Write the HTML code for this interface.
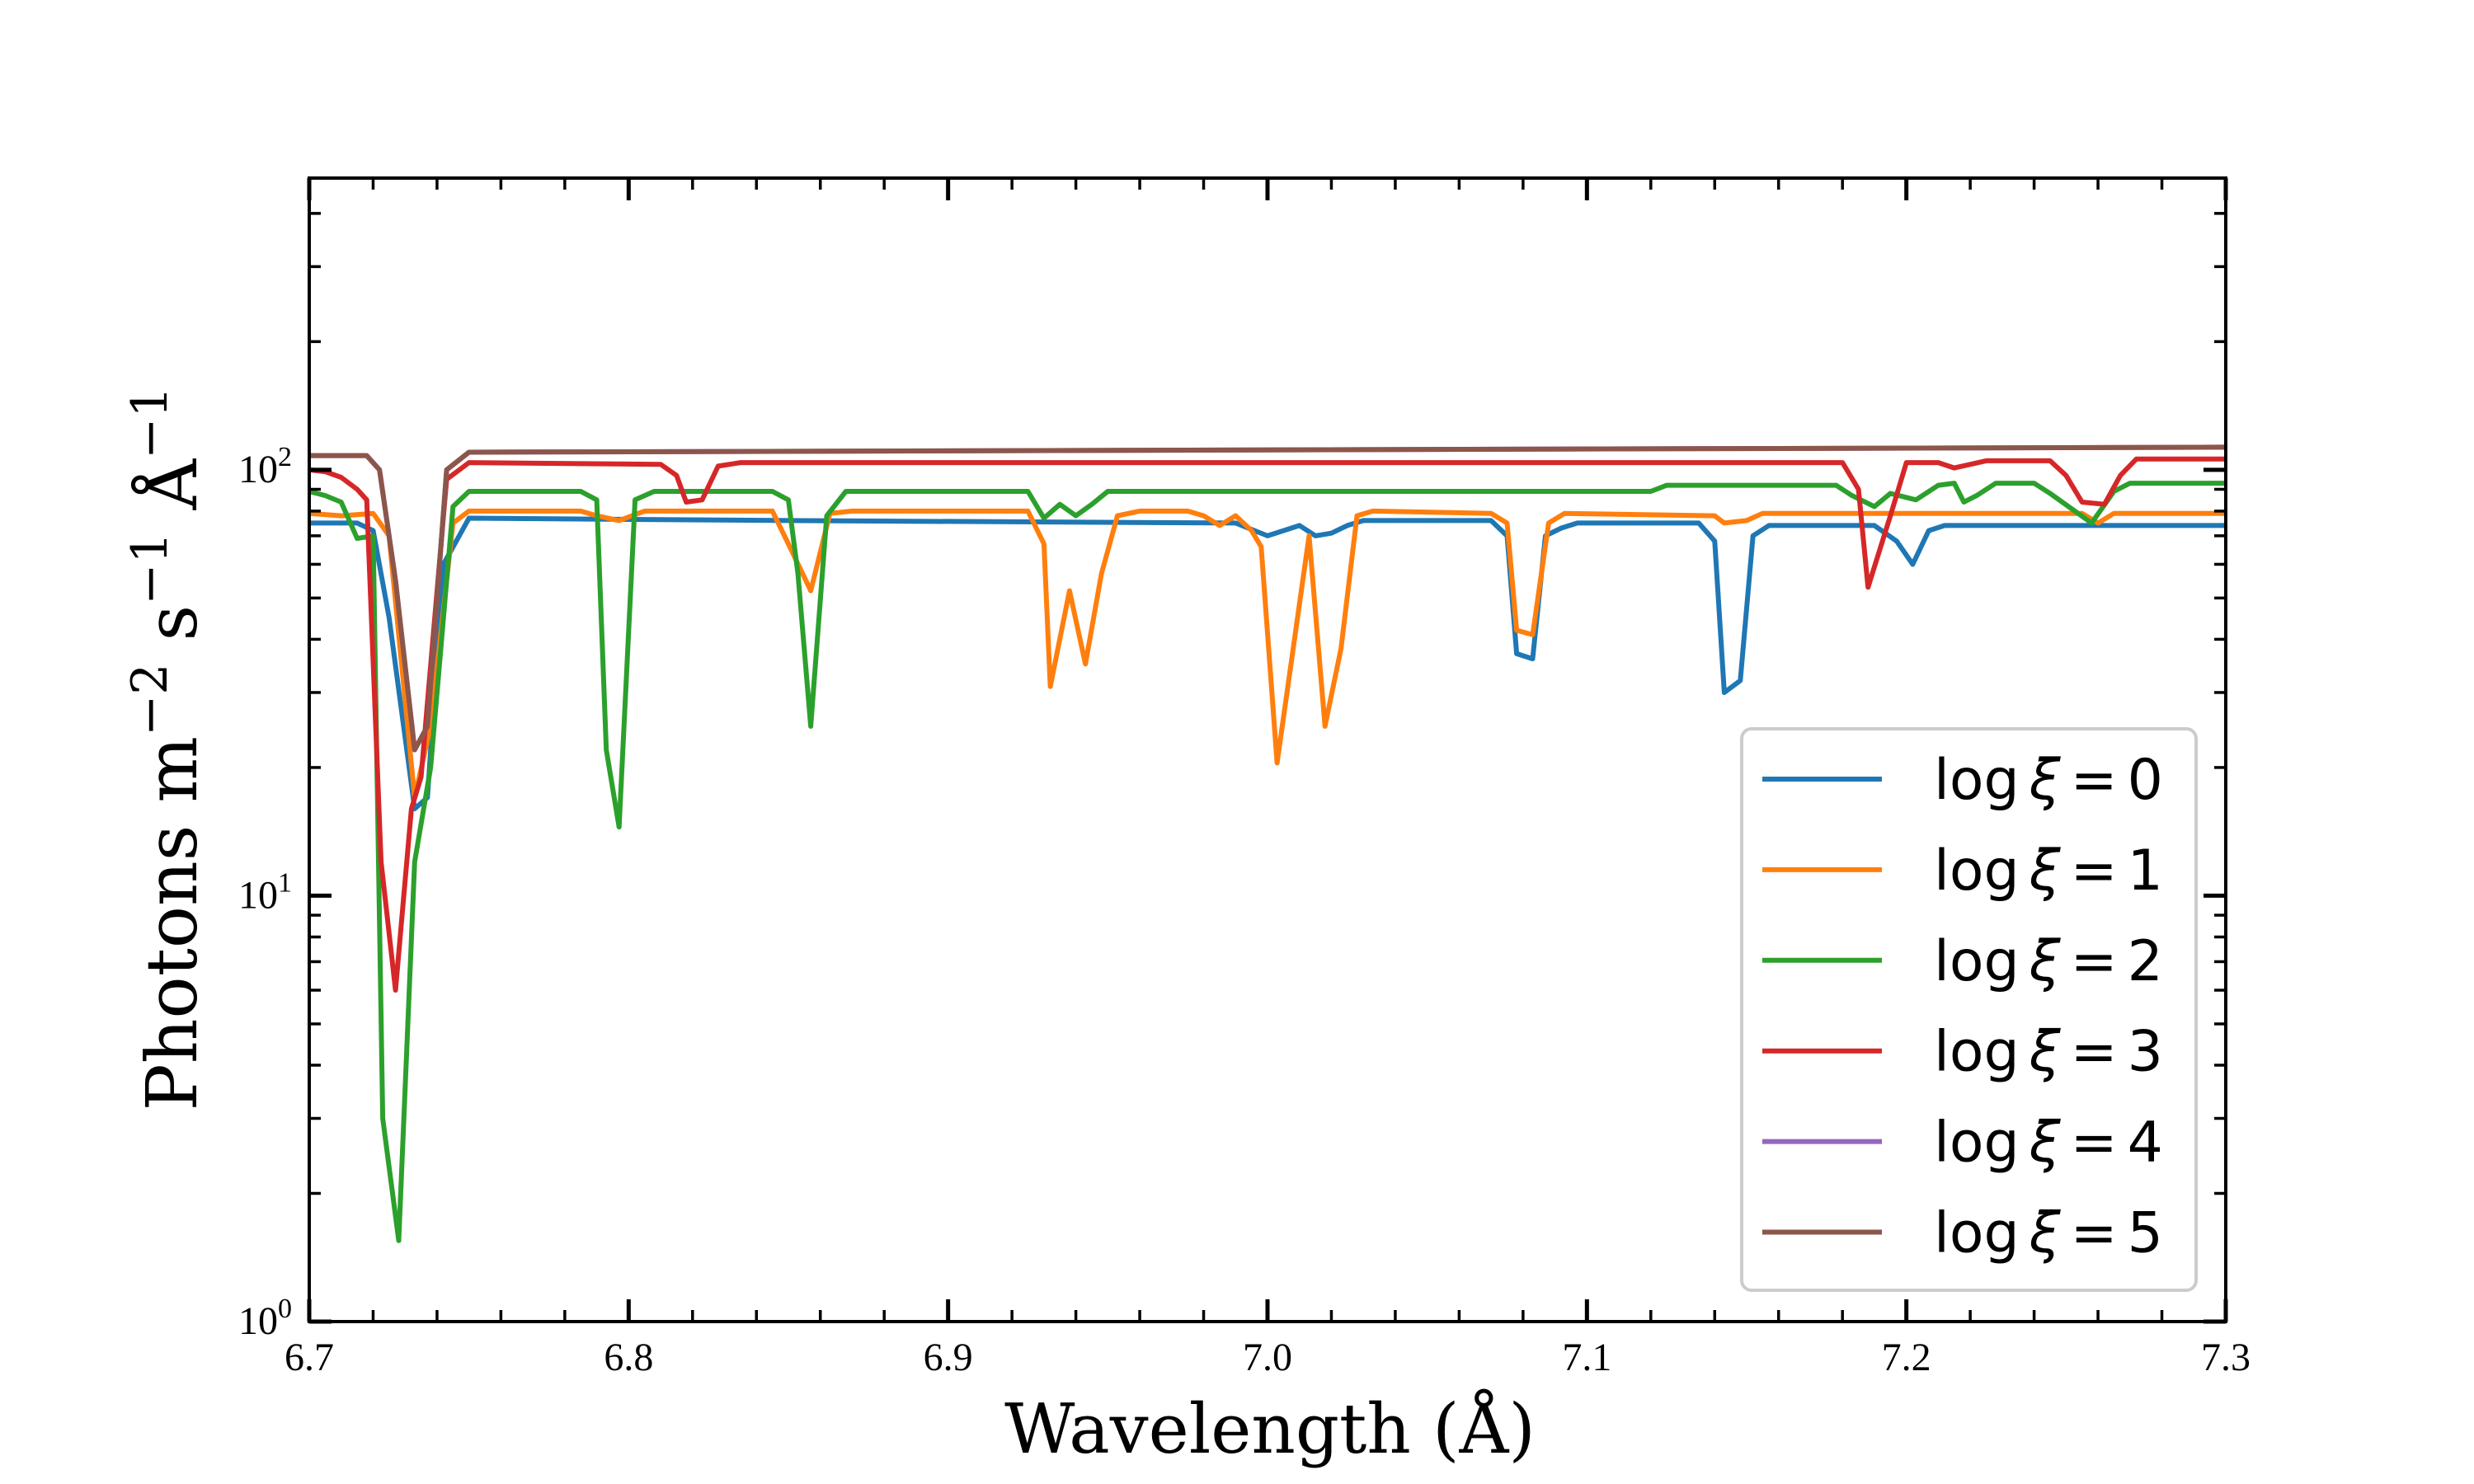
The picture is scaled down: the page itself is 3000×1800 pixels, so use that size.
<!DOCTYPE html>
<html><head><meta charset="utf-8"><style>
html,body{margin:0;padding:0;background:#fff;}
svg{display:block;}
</style></head><body>
<svg id="chart" width="3000" height="1800" viewBox="0 0 3000 1800" xmlns="http://www.w3.org/2000/svg">
<rect width="3000" height="1800" fill="#fff"/>
<g id="series"></g>
<g id="axes"></g>
<text x="1540" y="1762" text-anchor="middle" font-family="DejaVu Serif, Liberation Serif, serif" font-size="83">Wavelength (Å)</text>
<text transform="translate(238,908) rotate(-90)" text-anchor="middle" font-family="DejaVu Serif, Liberation Serif, serif" font-size="85">Photons m<tspan dy="-36" font-size="60">−2</tspan><tspan dy="36"> s</tspan><tspan dy="-36" font-size="60">−1</tspan><tspan dy="36"> Å</tspan><tspan dy="-36" font-size="60">−1</tspan></text>
<g id="legend"></g>
</svg>
<script>
const xTicks=[6.7,6.8,6.9,7.0,7.1,7.2,7.3];
const xTickLabels=["6.7","6.8","6.9","7.0","7.1","7.2","7.3"];
const yTicks=[1,10,100];
const seriesNames=["0","1","2","3","4","5"];
const seriesColors=["#1f77b4","#ff7f0e","#2ca02c","#d62728","#9467bd","#8c564b"];
const wl0=[6.7,6.715,6.72,6.725,6.733,6.737,6.742,6.75,6.85,6.99,7.0,7.005,7.01,7.015,7.02,7.025,7.03,7.07,7.075,7.078,7.083,7.087,7.092,7.097,7.135,7.14,7.143,7.148,7.152,7.157,7.19,7.197,7.202,7.207,7.212,7.3];
const v0=[75,75,72,45,16,17,60,77,76,75,70,72,74,70,71,74,76,76,70,37,36,70,73,75,75,68,30,32,70,74,74,68,60,72,74,74];
const wl1=[6.7,6.71,6.72,6.725,6.733,6.738,6.745,6.75,6.785,6.79,6.797,6.805,6.845,6.85,6.857,6.863,6.87,6.925,6.93,6.932,6.938,6.943,6.948,6.953,6.96,6.975,6.98,6.985,6.99,6.995,6.998,7.003,7.013,7.018,7.023,7.028,7.033,7.07,7.075,7.078,7.083,7.088,7.093,7.14,7.143,7.15,7.155,7.255,7.26,7.265,7.3];
const v1=[79,78,79,70,17,25,75,80,80,78,76,80,80,67,52,79,80,80,67,31,52,35,57,78,80,80,78,74,78,72,66,20.5,70,25,38,78,80,79,75,42,41,75,79,78,75,76,79,79,75,79,79];
const wl2=[6.7,6.705,6.71,6.715,6.72,6.723,6.728,6.733,6.738,6.745,6.75,6.785,6.79,6.793,6.797,6.802,6.808,6.845,6.85,6.853,6.857,6.862,6.868,6.925,6.93,6.935,6.94,6.945,6.95,7.12,7.125,7.178,7.183,7.19,7.195,7.203,7.21,7.215,7.218,7.222,7.228,7.24,7.245,7.258,7.265,7.27,7.3];
const v2=[89,87,84,69,70,3.0,1.55,12,20,82,89,89,85,22,14.5,85,89,89,85,57,25,78,89,89,77,83,78,83,89,89,92,92,87,82,88,85,92,93,84,87,93,93,88,75,89,93,93];
const wl3=[6.7,6.705,6.71,6.715,6.718,6.7225,6.727,6.732,6.735,6.743,6.75,6.81,6.815,6.818,6.823,6.828,6.835,7.18,7.185,7.188,7.195,7.2,7.21,7.215,7.225,7.245,7.25,7.255,7.262,7.267,7.272,7.3];
const v3=[100,99,96,90,85,12,6,16,19,95,104,103,97,84,85,102,104,104,90,53,78,104,104,101,105,105,97,84,83,97,106,106];
const wl4=[6.7,6.718,6.722,6.727,6.733,6.737,6.743,6.75,7.3];
const v4=[108,108,100,55,22,25,100,110,113];
const wl5=[6.7,6.718,6.722,6.727,6.733,6.737,6.743,6.75,7.3];
const v5=[108,108,100,55,22,25,100,110,113];
const allWl=[wl0,wl1,wl2,wl3,wl4,wl5];
const allV=[v0,v1,v2,v3,v4,v5];

const NS="http://www.w3.org/2000/svg";
const L=375,R=2699,T=216,B=1603;
const xMin=6.7,xMax=7.3,lMin=0,lMax=2.685;
function xs(v){return L+(v-xMin)/(xMax-xMin)*(R-L);}
function ys(v){return B-(Math.log10(v)-lMin)/(lMax-lMin)*(B-T);}
function mk(tag,attrs,parent){const e=document.createElementNS(NS,tag);for(const k in attrs)e.setAttribute(k,attrs[k]);parent.appendChild(e);return e;}

const sg=document.getElementById('series');
const clip=mk('clipPath',{id:'pc'},sg);
mk('rect',{x:L,y:T,width:R-L,height:B-T},clip);
for(let s=0;s<allWl.length;s++){
  let d='';
  allWl[s].forEach((w,i)=>{d+=(i?'L':'M')+xs(w).toFixed(1)+' '+ys(allV[s][i]).toFixed(1);});
  const p=mk('path',{d:d,fill:'none',stroke:seriesColors[s],'stroke-width':6,'stroke-linejoin':'round','clip-path':'url(#pc)'},sg);
  
  
}

const ax=document.getElementById('axes');
const frame=mk('rect',{x:L,y:T,width:R-L,height:B-T,fill:'none',stroke:'#000','stroke-width':4},ax);


for(let i=0;i<=30;i++){
  const v=xMin+i*0.02;const x=xs(v);const major=(i%5===0);const len=major?27:14;const w=major?5:3.5;
  mk('line',{x1:x,y1:B,x2:x,y2:B-len,stroke:'#000','stroke-width':w},ax);
  mk('line',{x1:x,y1:T,x2:x,y2:T+len,stroke:'#000','stroke-width':w},ax);
}
xTicks.forEach((v,i)=>{
  const t=mk('text',{x:xs(v),y:1662,'text-anchor':'middle','font-family':'Liberation Serif, serif','font-size':48},ax);
  t.textContent=xTickLabels[i];
  
  
});
for(let dcd=0;dcd<3;dcd++){
  for(let m=1;m<=9;m++){
    const v=m*Math.pow(10,dcd);const y=ys(v);if(y<T-1)continue;
    const major=(m===1);const len=major?27:14;const w=major?5:3.5;
    mk('line',{x1:L,y1:y,x2:L+len,y2:y,stroke:'#000','stroke-width':w},ax);
    mk('line',{x1:R,y1:y,x2:R-len,y2:y,stroke:'#000','stroke-width':w},ax);
  }
}
yTicks.forEach((v,i)=>{
  const t=mk('text',{x:354,y:ys(v)+15,'text-anchor':'end','font-family':'Liberation Serif, serif','font-size':48},ax);
  t.textContent='10';
  const sp=mk('tspan',{dy:-20,'font-size':34},t);
  sp.textContent=String(Math.round(Math.log10(v)));
  
  
});

const lg=document.getElementById('legend');
const box=mk('rect',{x:2112,y:884,width:551,height:681,rx:12,fill:'#fff','fill-opacity':0.8,stroke:'#cccccc','stroke-width':4},lg);


seriesNames.forEach((n,i)=>{
  const y=945+i*109.9;
  const ln=mk('line',{x1:2137,y1:y,x2:2282,y2:y,stroke:seriesColors[i],'stroke-width':6},lg);
  
  
  const t=mk('text',{x:2345,y:y+24,'font-family':'DejaVu Sans, Liberation Sans, sans-serif','font-size':68},lg);
  t.innerHTML='log<tspan font-style="italic" dx="12">ξ</tspan><tspan dx="12">=</tspan><tspan dx="12">'+n+'</tspan>';
  
  
});
</script>
</body></html>
